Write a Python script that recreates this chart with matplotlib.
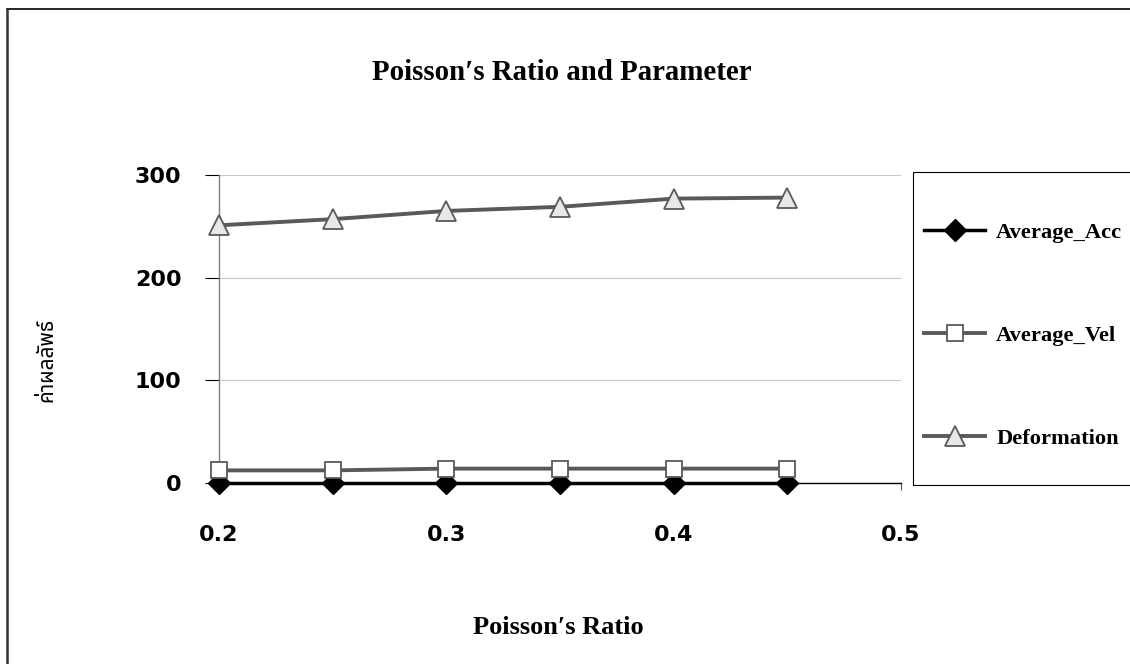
import matplotlib
matplotlib.use('Agg')
import matplotlib.pyplot as plt
from matplotlib.patches import Rectangle
from matplotlib.lines import Line2D

# Data
poisson = [0.2, 0.25, 0.3, 0.35, 0.4, 0.45]
average_acc = [0.3, 0.3, 0.3, 0.3, 0.3, 0.3]
average_vel = [12.3, 12.3, 14.0, 14.0, 14.0, 14.0]
deformation = [251, 257, 265, 269, 277, 278]

x_ticks = [0.2, 0.25, 0.3, 0.35, 0.4, 0.45, 0.5]
x_labels = ['0.2', '', '0.3', '', '0.4', '', '0.5']
y_ticks = [0, 100, 200, 300]

serif = ['Liberation Serif', 'DejaVu Serif']
thai = ['Noto Sans Thai', 'Noto Serif Thai', 'Loma', 'Garuda', 'Norasi',
        'Tlwg Typo', 'Waree', 'Kinnari', 'DejaVu Sans']

W, H = 1130, 664
fig = plt.figure(figsize=(W / 100, H / 100), dpi=100)
fig.patch.set_facecolor('white')

# plot area in pixel terms
left, right, top, bottom = 219, 901, 175, 483
ax = fig.add_axes([left / W, 1 - bottom / H, (right - left) / W, (bottom - top) / H])

gray = '#595959'
ax.plot(poisson, average_acc, color='black', lw=2.5, marker='D', markersize=11,
        markerfacecolor='black', markeredgecolor='black', clip_on=False,
        label='Average_Acc', zorder=3)
ax.plot(poisson, average_vel, color=gray, lw=2.8, marker='s', markersize=11,
        markerfacecolor='white', markeredgecolor=gray, markeredgewidth=1.3,
        clip_on=False, label='Average_Vel', zorder=4)
ax.plot(poisson, deformation, color=gray, lw=2.8, marker='^', markersize=15,
        markerfacecolor='#e8e8e8', markeredgecolor=gray, markeredgewidth=1.3,
        clip_on=False, label='Deformation', zorder=4)

ax.set_xlim(0.2, 0.5)
ax.set_ylim(0, 300)
ax.set_xticks(x_ticks)
ax.set_xticklabels(x_labels)
ax.set_yticks(y_ticks)

ax.spines['top'].set_visible(False)
ax.spines['right'].set_visible(False)
ax.spines['left'].set_color('#808080')
ax.spines['left'].set_linewidth(1.0)
ax.spines['bottom'].set_color('black')
ax.spines['bottom'].set_linewidth(1.0)

ax.tick_params(axis='x', direction='out', length=5, width=0.8, color='#555555', pad=25)
ax.tick_params(axis='y', direction='out', length=10, width=0.8, color='black', pad=17)
for lab in ax.get_xticklabels() + ax.get_yticklabels():
    lab.set_fontfamily('DejaVu Sans')
    lab.set_fontweight('bold')
    lab.set_fontsize(16)

ax.yaxis.grid(True, color='#c8c8c8', lw=0.8)
ax.set_axisbelow(True)

# title and axis labels
fig.text(562 / W, 1 - 73 / H, 'Poisson′s Ratio and Parameter',
         ha='center', va='center', fontsize=20.8, fontweight='bold', family=serif)
fig.text(558 / W, 1 - 628 / H, 'Poisson′s Ratio', ha='center', va='center',
         fontsize=19, fontweight='bold', family=serif)
fig.text(47 / W, 1 - 360 / H, 'ค่าผลลัพธ์', ha='center', va='center',
         rotation=90, fontsize=15, fontweight='bold', family=thai)

# legend box
fig.patches.append(Rectangle((913 / W, 1 - 485 / H), 0.3, (485 - 172) / H,
                             transform=fig.transFigure, fill=False,
                             edgecolor='black', lw=0.8))
leg = fig.legend(loc='upper left', bbox_to_anchor=(913 / W, 1 - 211 / H),
                 frameon=False, borderpad=0, handlelength=2.7,
                 handletextpad=0.5, labelspacing=3.66,
                 prop={'family': serif, 'weight': 'bold', 'size': 16.2})

# outer chart border
fig.lines.append(Line2D([7 / W, 1.0], [1 - 9 / H, 1 - 9 / H], transform=fig.transFigure,
                        color='black', lw=1.2))
fig.lines.append(Line2D([7 / W, 7 / W], [0, 1 - 9 / H], transform=fig.transFigure,
                        color='#333333', lw=1.8))

fig.savefig('out.png', dpi=100)
